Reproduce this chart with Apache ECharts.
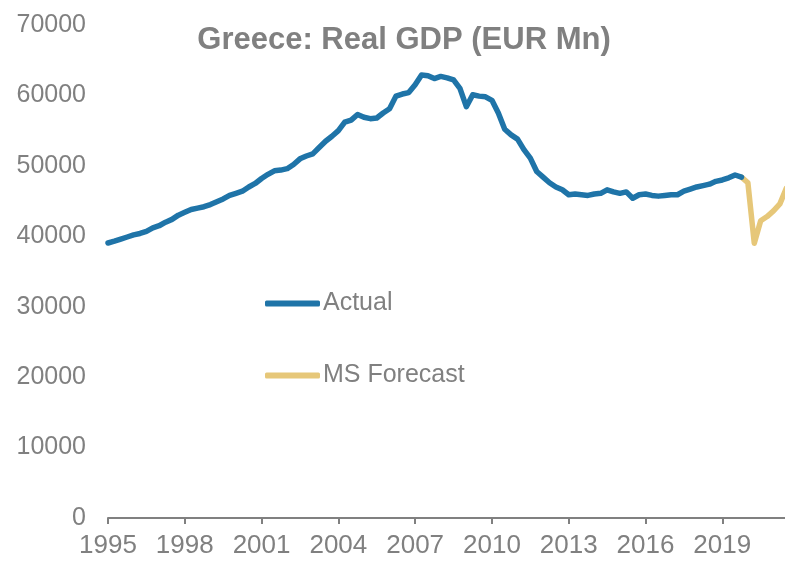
<!DOCTYPE html>
<html>
<head>
<meta charset="utf-8">
<script src="https://cdn.jsdelivr.net/npm/echarts@6/dist/echarts.min.js"></script>
<style>html,body{margin:0;padding:0;background:#fff}#c{width:785px;height:561px}</style>
</head>
<body>
<div id="c"></div>
<script>
// Quarterly real GDP, EUR Mn, starting 1995 Q1
const actualStart = 1995;
const actualValues = [
  39050, 39300, 39600, 39900,
  40200, 40400, 40700, 41200,
  41500, 42000, 42400, 43000,
  43400, 43800, 44000, 44200,
  44500, 44900, 45300, 45800,
  46100, 46400, 47000, 47500,
  48200, 48800, 49300, 49400,
  49600, 50200, 51000, 51400,
  51700, 52600, 53500, 54200,
  55000, 56200, 56500, 57300,
  56900, 56700, 56800, 57500,
  58100, 59900, 60200, 60400,
  61500, 62900, 62800, 62400,
  62700, 62500, 62200, 61000,
  58400, 60100, 59900, 59800,
  59300, 57500, 55200, 54400,
  53800, 52300, 51100, 49200,
  48400, 47600, 47000, 46600,
  45900, 46000, 45900, 45800,
  46000, 46100, 46600, 46300,
  46100, 46300, 45400, 45900,
  46000, 45800, 45700, 45800,
  45900, 45900, 46400, 46700,
  47000, 47200, 47400, 47800,
  48000, 48300, 48700, 48400
];
// MS forecast, starting 2019 Q4
const forecastStart = 2019.75;
const forecastValues = [48400, 47600, 39000, 42200, 42800, 43600, 44600, 46800];
const xTicks = [1995, 1998, 2001, 2004, 2007, 2010, 2013, 2016, 2019];
const yTicks = [0, 10000, 20000, 30000, 40000, 50000, 60000, 70000];
const seriesNames = ['Actual', 'MS Forecast'];

const toPairs = (start, vals) => vals.map((v, i) => [start + i / 4, v]);

const FONT = '"Liberation Sans", Arial, sans-serif';
const GRAY = '#808080';

const chart = echarts.init(document.getElementById('c'), null, {renderer: 'canvas'});
chart.setOption({
  animation: false,
  backgroundColor: '#ffffff',
  title: {
    text: 'Greece: Real GDP (EUR Mn)',
    left: 404,
    top: 25,
    padding: 0,
    textAlign: 'center',
    textStyle: {fontFamily: FONT, fontSize: 31, fontWeight: 'bold', color: GRAY}
  },
  legend: {
    orient: 'vertical',
    left: 265,
    top: 291,
    itemGap: 47,
    itemWidth: 55,
    itemHeight: 6,
    icon: 'roundRect',
    padding: 0,
    data: seriesNames,
    textStyle: {fontFamily: FONT, fontSize: 25, color: GRAY, padding: [0, 0, 0, -2]}
  },
  grid: {left: 108, right: 0, top: 25, bottom: 43, containLabel: false},
  xAxis: {
    type: 'value',
    min: 1995,
    max: 2021.45,
    interval: 3,
    splitLine: {show: false},
    axisLine: {show: true, lineStyle: {color: GRAY, width: 2}},
    axisTick: {show: true, length: 6, inside: false, lineStyle: {color: GRAY, width: 2}, customValues: xTicks},
    axisLabel: {
      customValues: xTicks,
      margin: 15,
      fontFamily: FONT, fontSize: 26, color: GRAY,
      formatter: v => String(Math.round(v))
    }
  },
  yAxis: {
    type: 'value',
    min: 0,
    max: 70000,
    interval: 10000,
    splitLine: {show: false},
    axisLine: {show: false},
    axisTick: {show: false},
    axisLabel: {
      margin: 22,
      fontFamily: FONT, fontSize: 25, color: GRAY,
      customValues: yTicks,
      formatter: v => String(v)
    }
  },
  series: [
    {
      name: seriesNames[0],
      type: 'line',
      data: toPairs(actualStart, actualValues),
      showSymbol: false,
      symbol: 'none',
      lineStyle: {color: '#1f74a8', width: 5.5, cap: 'round', join: 'round'},
      itemStyle: {color: '#1f74a8'},
      z: 3
    },
    {
      name: seriesNames[1],
      type: 'line',
      data: toPairs(forecastStart, forecastValues),
      showSymbol: false,
      symbol: 'none',
      lineStyle: {color: '#e6c779', width: 5.5, cap: 'round', join: 'round'},
      itemStyle: {color: '#e6c779'},
      z: 2
    }
  ]
});
</script>
</body>
</html>
